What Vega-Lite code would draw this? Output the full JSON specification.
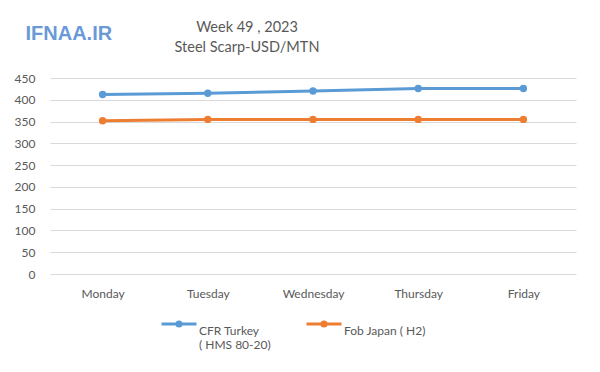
{
  "$schema": "https://vega.github.io/schema/vega-lite/v6.json",
  "width": 526,
  "height": 196,
  "autosize": "none",
  "padding": {"left": 50, "top": 78, "right": 24, "bottom": 98},
  "background": "white",
  "title": {
    "text": ["Week 49  , 2023", "Steel Scarp-USD/MTN"],
    "anchor": "middle",
    "frame": "group",
    "dx": -66,
    "offset": -32,
    "fontSize": 14.5,
    "fontWeight": "normal",
    "font": "Lato",
    "color": "#595959",
    "lineHeight": 20
  },
  "data": {
    "values": [
      {"day": "Monday", "series": "CFR Turkey", "price": 412},
      {"day": "Tuesday", "series": "CFR Turkey", "price": 415},
      {"day": "Wednesday", "series": "CFR Turkey", "price": 420},
      {"day": "Thursday", "series": "CFR Turkey", "price": 426},
      {"day": "Friday", "series": "CFR Turkey", "price": 426},
      {"day": "Monday", "series": "Fob Japan ( H2)", "price": 352},
      {"day": "Tuesday", "series": "Fob Japan ( H2)", "price": 355},
      {"day": "Wednesday", "series": "Fob Japan ( H2)", "price": 355},
      {"day": "Thursday", "series": "Fob Japan ( H2)", "price": 355},
      {"day": "Friday", "series": "Fob Japan ( H2)", "price": 355}
    ]
  },
  "mark": {"type": "line", "strokeWidth": 3, "point": {"filled": true, "size": 55}},
  "encoding": {
    "x": {
      "field": "day",
      "type": "ordinal",
      "sort": ["Monday", "Tuesday", "Wednesday", "Thursday", "Friday"],
      "scale": {"type": "point", "padding": 0.5},
      "axis": {
        "title": null,
        "labelAngle": 0,
        "domain": false,
        "ticks": false,
        "grid": false,
        "labelPadding": 14,
        "labelFontSize": 12,
        "labelFont": "Lato",
        "labelColor": "#595959"
      }
    },
    "y": {
      "field": "price",
      "type": "quantitative",
      "scale": {"domain": [0, 450]},
      "axis": {
        "title": "IFNAA.IR",
        "titleAngle": 0,
        "titleX": -25,
        "titleY": -45,
        "titleAlign": "left",
        "titleBaseline": "middle",
        "titleFontSize": 20,
        "titleFont": "Liberation Sans",
        "titleFontWeight": "bold",
        "titleColor": "#6a9ad6",
        "values": [0, 50, 100, 150, 200, 250, 300, 350, 400, 450],
        "domain": false,
        "ticks": false,
        "gridColor": "#d9d9d9",
        "gridWidth": 1,
        "labelPadding": 15,
        "labelFontSize": 12,
        "labelFont": "Lato",
        "labelColor": "#595959"
      }
    },
    "color": {
      "field": "series",
      "type": "nominal",
      "scale": {"domain": ["CFR Turkey", "Fob Japan ( H2)"], "range": ["#5B9BD5", "#ED7D31"]},
      "legend": {
        "title": null,
        "orient": "none",
        "direction": "horizontal",
        "legendX": 110,
        "legendY": 234,
        "columnPadding": 29,
        "labelFontSize": 12,
        "labelFont": "Lato",
        "labelColor": "#595959",
        "labelOffset": 1,
        "labelBaseline": "middle",
        "labelExpr": "datum.label == 'CFR Turkey' ? ['CFR Turkey', '   ( HMS 80-20)'] : [datum.label, ' ']",
        "symbolType": "M-1,-0.4H1M-0.12,-0.4A0.12,0.12 0 1,0 0.12,-0.4A0.12,0.12 0 1,0 -0.12,-0.4",
        "symbolSize": 1225,
        "symbolStrokeWidth": 3
      }
    }
  },
  "config": {"view": {"stroke": null}}
}
